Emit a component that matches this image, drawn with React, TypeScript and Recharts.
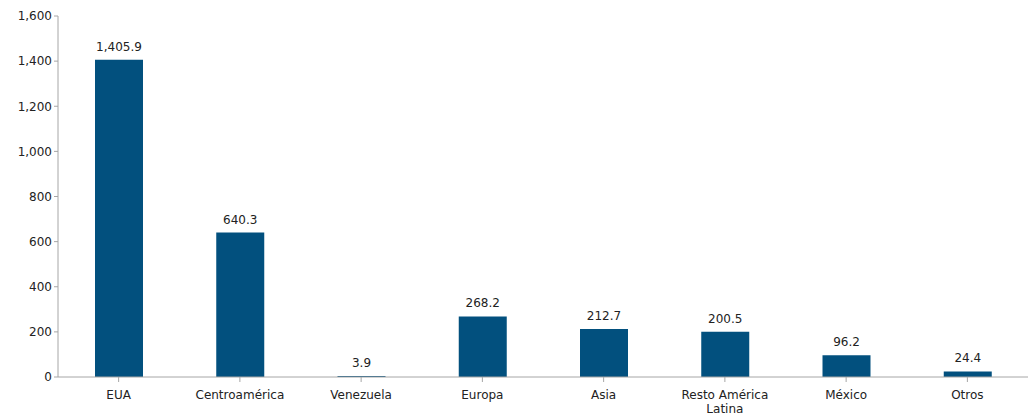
import React from 'react'
import { BarChart, Bar, XAxis, YAxis, LabelList } from 'recharts'

const categories = ['EUA', 'Centroamérica', 'Venezuela', 'Europa', 'Asia', 'Resto América Latina', 'México', 'Otros']
const values = [1405.9, 640.3, 3.9, 268.2, 212.7, 200.5, 96.2, 24.4]
const yTicks = [0, 200, 400, 600, 800, 1000, 1200, 1400, 1600]

const data = categories.map((name, i) => ({ name, value: values[i] }))

const font = 'Verdana, "DejaVu Sans", sans-serif'
const fmt = (v: number) => v.toLocaleString('en-US', { minimumFractionDigits: 1, maximumFractionDigits: 1 })

const CatTick = (props: any) => {
  const { x, y, payload } = props
  const text: string = payload.value
  let lines = [text]
  if (text.length > 15) {
    const k = text.lastIndexOf(' ')
    lines = [text.slice(0, k), text.slice(k + 1)]
  }
  return (
    <text x={x} y={y + 15} textAnchor="middle" fontSize={12} fontFamily={font} fill="#222">
      {lines.map((l, i) => (
        <tspan key={i} x={x} dy={i === 0 ? 0 : 14}>{l}</tspan>
      ))}
    </text>
  )
}

export default function App() {
  return (
    <div style={{ position: 'absolute', left: 0, top: 0, background: '#fff' }}>
      <BarChart width={1029} height={415} data={data} margin={{ top: 16, right: 1, left: 0, bottom: 0 }} barCategoryGap="30%">
        <XAxis
          dataKey="name"
          height={38}
          interval={0}
          stroke="#a6a6a6"
          tickSize={5}
          tick={<CatTick />}
          tickLine={{ stroke: '#a6a6a6' }}
        />
        <YAxis
          width={58}
          domain={[0, 1600]}
          ticks={yTicks}
          tickFormatter={(v: number) => v.toLocaleString('en-US')}
          stroke="#a6a6a6"
          tickSize={4}
          tick={{ fontSize: 12, fontFamily: font, fill: '#222' }}
        />
        <Bar dataKey="value" fill="#02507e" barSize={48} isAnimationActive={false}>
          <LabelList
            dataKey="value"
            position="top"
            offset={9}
            formatter={(v: any) => fmt(Number(v))}
            style={{ fontSize: 12, fontFamily: font, fill: '#222' }}
          />
        </Bar>
      </BarChart>
    </div>
  )
}
